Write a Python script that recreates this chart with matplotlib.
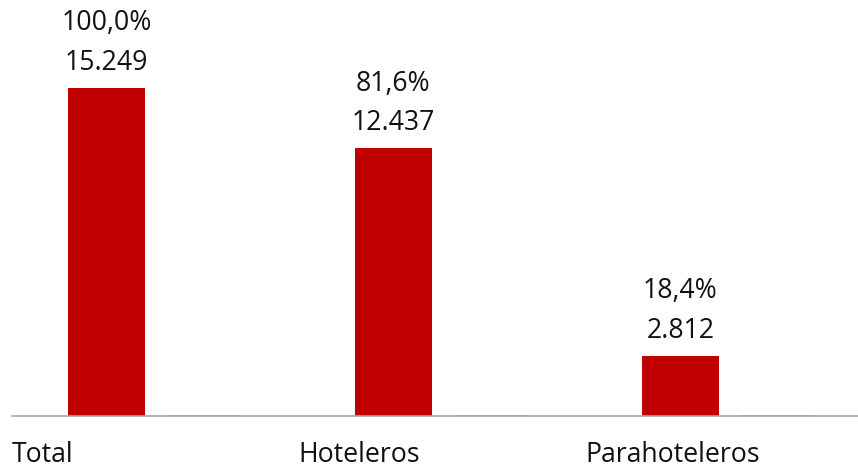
import matplotlib.pyplot as plt
import matplotlib.transforms as mtransforms
import numpy as np

plt.rcParams["font.family"] = ["Open Sans", "DejaVu Sans"]

categories = ["Total", "Hoteleros", "Parahoteleros"]
values = [15249, 12437, 2812]
shares = [100.0, 81.6, 18.4]
# second series is almost flat on the baseline
values_minor = [45, 45, 45]

RED = "#C00000"
ORANGE = "#E9B08C"
TEXT = "#111111"
FS = 19.2

fig = plt.figure(figsize=(8.58, 4.70), dpi=100)
ax = fig.add_axes([12 / 858, 54 / 470, 846 / 858, 416 / 470])

x = np.arange(len(categories))
ax.bar(x, values, width=0.268, color=RED, zorder=2)
ax.bar(x + 0.34, values_minor, width=0.255, color=ORANGE, zorder=2)

ax.set_xlim(-0.329, 2.619)
ax.set_ylim(0, 19340)

for i, (v, s) in enumerate(zip(values, shares)):
    value_txt = f"{v:,}".replace(",", ".")
    share_txt = f"{s:.1f}%".replace(".", ",")
    ax.annotate(value_txt, (x[i], v), xytext=(0, 18), textcoords="offset points",
                ha="center", va="center", fontsize=FS, color=TEXT)
    ax.annotate(share_txt, (x[i], v), xytext=(0, 46.5), textcoords="offset points",
                ha="center", va="center", fontsize=FS, color=TEXT)

trans = mtransforms.blended_transform_factory(ax.transData, ax.transAxes)
for i, name in enumerate(categories):
    ax.text(x[i] - 0.331, -0.094, name, transform=trans, ha="left", va="center",
            fontsize=FS, color=TEXT)

for side in ["top", "right", "left"]:
    ax.spines[side].set_visible(False)
ax.spines["bottom"].set_color("#A6A6A6")
ax.spines["bottom"].set_linewidth(1.2)
ax.set_xticks([])
ax.set_yticks([])

fig.savefig("out.png", dpi=100)
